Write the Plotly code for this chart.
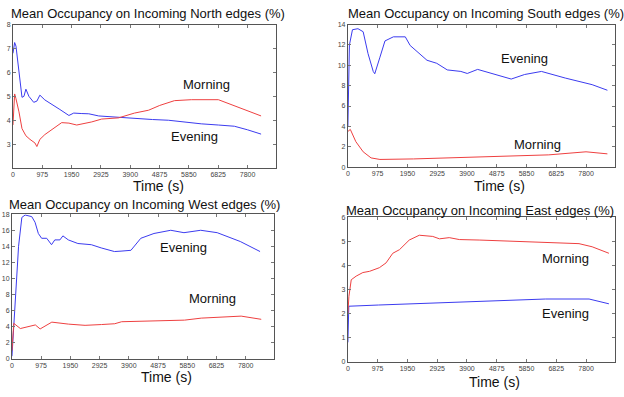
import plotly.graph_objects as go

# ---------------- data ----------------
x_ticks = [0, 975, 1950, 2925, 3900, 4875, 5850, 6825, 7800]

# North
north_t_eve = [0, 56, 100, 200, 300, 365, 430, 530, 690, 795, 895, 1060, 1290, 1560, 1860, 2020, 2290, 2520, 2850, 3510, 4040, 4640, 5170, 5710, 6260, 6830, 7360, 7800, 8250]
north_eve = [6.8, 7.25, 7.1, 6.0, 4.96, 5.0, 5.3, 5.0, 4.75, 4.8, 5.05, 4.85, 4.65, 4.45, 4.2, 4.3, 4.28, 4.27, 4.18, 4.12, 4.07, 4.03, 4.0, 3.92, 3.85, 3.8, 3.75, 3.6, 3.42]
north_t_mor = [0, 33, 56, 100, 200, 300, 430, 565, 730, 795, 895, 1060, 1290, 1620, 1860, 2120, 2620, 2950, 3510, 4040, 4510, 4880, 5370, 5930, 6830, 7590, 8250]
north_mor = [3.8, 4.6, 5.1, 4.9, 4.35, 3.65, 3.35, 3.2, 3.05, 2.9, 3.2, 3.4, 3.6, 3.9, 3.88, 3.8, 3.93, 4.05, 4.1, 4.3, 4.42, 4.62, 4.82, 4.86, 4.86, 4.5, 4.18]

# South
south_t_eve = [0, 50, 150, 330, 500, 660, 830, 880, 1050, 1215, 1490, 1880, 2040, 2590, 2910, 3255, 3700, 3910, 4250, 4690, 5350, 5790, 6340, 7120, 8000, 8500]
south_eve = [4.0, 12.0, 13.5, 13.6, 13.3, 11.15, 9.4, 9.17, 10.8, 12.4, 12.8, 12.8, 11.95, 10.5, 10.2, 9.55, 9.4, 9.2, 9.6, 9.2, 8.65, 9.1, 9.4, 8.75, 8.1, 7.55]
south_t_mor = [0, 80, 260, 500, 760, 1050, 2150, 3300, 4370, 5500, 6580, 7800, 8500]
south_mor = [3.5, 3.7, 2.5, 1.5, 0.9, 0.75, 0.8, 0.9, 1.05, 1.1, 1.2, 1.5, 1.3]

# West
west_t_eve = [0, 110, 220, 330, 440, 660, 770, 880, 990, 1160, 1320, 1430, 1600, 1700, 1880, 2200, 2650, 2980, 3420, 3640, 3970, 4300, 4740, 5300, 5740, 6300, 6850, 7620, 8280]
west_eve = [0.3, 7.8, 14.0, 17.6, 17.9, 17.7, 17.0, 15.6, 15.0, 15.0, 14.2, 14.8, 14.8, 15.3, 14.8, 14.35, 14.2, 13.8, 13.35, 13.4, 13.5, 15.0, 15.6, 16.0, 15.7, 16.0, 15.7, 14.6, 13.35]
west_t_mor = [0, 60, 280, 550, 780, 940, 1330, 1890, 2440, 2990, 3430, 3660, 4660, 5760, 6320, 7650, 8320]
west_mor = [1.0, 4.4, 3.75, 4.0, 4.2, 3.7, 4.55, 4.3, 4.15, 4.25, 4.35, 4.6, 4.7, 4.8, 5.05, 5.3, 4.9]

# East
east_t_mor = [0, 33, 110, 270, 490, 710, 1030, 1250, 1470, 1690, 2010, 2340, 2780, 3000, 3320, 3650, 4300, 5390, 6480, 7570, 8000, 8550]
east_mor = [2.0, 2.7, 3.4, 3.55, 3.7, 3.75, 3.9, 4.1, 4.5, 4.65, 5.05, 5.25, 5.2, 5.1, 5.15, 5.07, 5.05, 5.0, 4.95, 4.9, 4.77, 4.5]
east_t_eve = [0, 30, 1000, 2010, 3200, 4300, 5390, 6480, 7900, 8550]
east_eve = [0.8, 2.3, 2.35, 2.4, 2.45, 2.5, 2.55, 2.6, 2.6, 2.4]

titles = ["Mean Occupancy on Incoming North edges (%)",
          "Mean Occupancy on Incoming South edges (%)",
          "Mean Occupancy on Incoming West edges (%)",
          "Mean Occupancy on Incoming East edges (%)"]

# ---------------- figure ----------------
W, H = 624, 397
BLUE = "#3b3bef"
RED = "#ee4040"

def px(x):
    return x / W

def py(y):
    return 1 - y / H

panels = [
    # (t_eve, eve, t_mor, mor, xdom px, ydom px (top,bottom), y range, y ticks, title pos, timepos, evening label, morning label)
    dict(te=north_t_eve, e=north_eve, tm=north_t_mor, m=north_mor,
         xd=(11, 275), yd=(21, 167), yr=[2, 8], yt=[3, 4, 5, 6, 7, 8],
         tpos=(146, 10), tipos=(157, 185), epos=(193, 135), mpos=(205, 82)),
    dict(te=south_t_eve, e=south_eve, tm=south_t_mor, m=south_mor,
         xd=(347, 615), yd=(21, 166), yr=[0, 14], yt=list(range(0, 15, 2)),
         tpos=(486, 10), tipos=(499, 185), epos=(524, 55), mpos=(537, 143)),
    dict(te=west_t_eve, e=west_eve, tm=west_t_mor, m=west_mor,
         xd=(10, 273), yd=(214, 361), yr=[0, 18], yt=list(range(0, 19, 2)),
         tpos=(143, 204), tipos=(165, 380), epos=(182, 248), mpos=(211, 300)),
    dict(te=east_t_eve, e=east_eve, tm=east_t_mor, m=east_mor,
         xd=(347, 615), yd=(217, 364), yr=[0, 6], yt=list(range(0, 7)),
         tpos=(480, 210), tipos=(494, 385), epos=(565, 315), mpos=(565, 259)),
]

fig = go.Figure()
annotations = []
layout = {}
for i, p in enumerate(panels):
    n = "" if i == 0 else str(i + 1)
    xa, ya = "x" + n, "y" + n
    fig.add_trace(go.Scatter(x=p["te"], y=p["e"], mode="lines", xaxis=xa, yaxis=ya,
                             line=dict(color=BLUE, width=1), showlegend=False, hoverinfo="skip"))
    fig.add_trace(go.Scatter(x=p["tm"], y=p["m"], mode="lines", xaxis=xa, yaxis=ya,
                             line=dict(color=RED, width=1), showlegend=False, hoverinfo="skip"))
    axcommon = dict(showline=True, mirror="ticks", linecolor="#555", linewidth=1,
                    ticks="inside", ticklen=3, tickcolor="#777", showgrid=False, zeroline=False,
                    tickfont=dict(family="Liberation Sans, Arial", size=7, color="#444"))
    layout["xaxis" + n] = dict(axcommon, domain=[px(p["xd"][0]), px(p["xd"][1])],
                               range=[0, 8750], tickvals=x_ticks, anchor=ya)
    layout["yaxis" + n] = dict(axcommon, domain=[py(p["yd"][1]), py(p["yd"][0])],
                               range=p["yr"], tickvals=p["yt"], anchor=xa)
    annotations.append(dict(text=titles[i], x=px(p["tpos"][0]), y=py(p["tpos"][1]),
                            xref="paper", yref="paper", showarrow=False, xanchor="center", yanchor="middle",
                            font=dict(family="Liberation Sans, Arial", size=13, color="#111")))
    annotations.append(dict(text="Time (s)", x=px(p["tipos"][0]), y=py(p["tipos"][1]),
                            xref="paper", yref="paper", showarrow=False, xanchor="center", yanchor="middle",
                            font=dict(family="Liberation Sans, Arial", size=14, color="#111")))
    annotations.append(dict(text="Evening", x=px(p["epos"][0]), y=py(p["epos"][1]),
                            xref="paper", yref="paper", showarrow=False, xanchor="center", yanchor="middle",
                            font=dict(family="Liberation Sans, Arial", size=13, color="#111")))
    annotations.append(dict(text="Morning", x=px(p["mpos"][0]), y=py(p["mpos"][1]),
                            xref="paper", yref="paper", showarrow=False, xanchor="center", yanchor="middle",
                            font=dict(family="Liberation Sans, Arial", size=13, color="#111")))

fig.update_layout(width=W, height=H, margin=dict(l=0, r=0, t=0, b=0),
                  paper_bgcolor="white", plot_bgcolor="white",
                  annotations=annotations, **layout)

fig.write_html("out.html")
